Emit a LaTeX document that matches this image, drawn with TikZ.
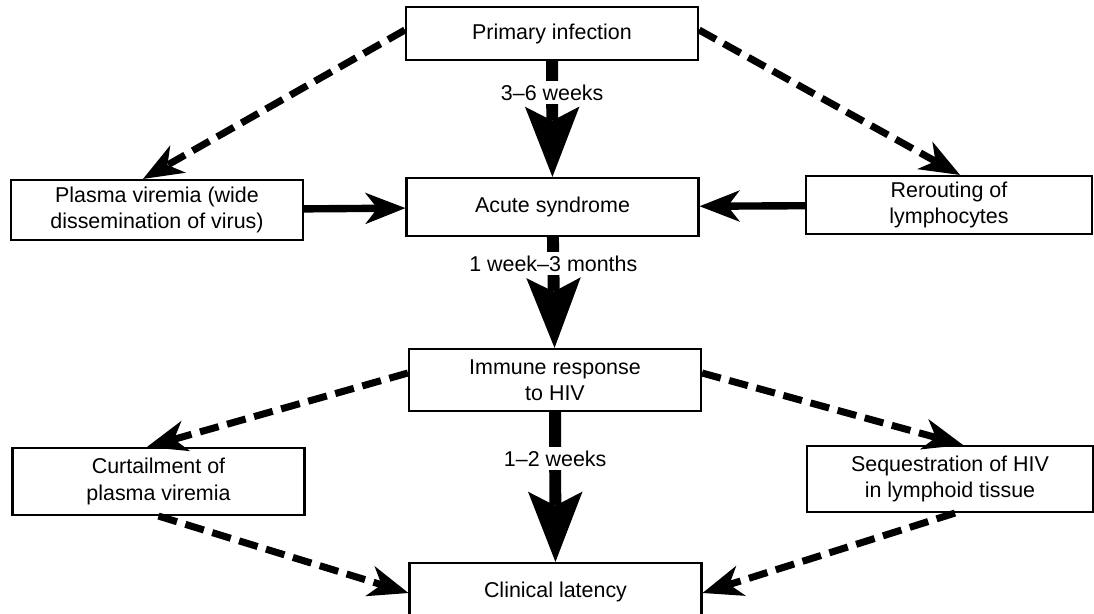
\documentclass[tikz,border=0pt]{standalone}
\usepackage{fontspec}
\setmainfont{Liberation Sans}
\usetikzlibrary{arrows.meta}

\tikzset{
	box/.style={draw, line width=1.2pt, align=center, inner sep=0pt, minimum width=5.84cm, minimum height=1.1cm, font=\fontsize{12.2}{15}\selectfont},
	bigarrow/.style={line width=6.8pt, -{Stealth[length=40pt, width=31pt, inset=8pt, line width=0pt]}},
	solidarrow/.style={line width=4.2pt, -{Stealth[length=23pt, width=18pt, inset=7pt, line width=0pt]}},
	dasharrow/.style={line width=4pt, dash pattern=on 11pt off 5pt, -{Stealth[length=23pt, width=18pt, inset=7pt, line width=0pt]}},
	weeks/.style={fill=white, inner sep=2pt, font=\fontsize{12.2}{15}\selectfont}
}

\begin{document}
\begin{tikzpicture}
	\useasboundingbox[fill=white] (0,0) rectangle (21.88,-12.28);
	\node[box, minimum height=1.06cm] (prim) at (11.04,-0.67) {Primary infection};
	\node[box, minimum height=1.16cm] (acute) at (11.05,-4.14) {Acute syndrome};
	\node[box, minimum height=1.2cm] (plasma) at (3.14,-4.20) {Plasma viremia (wide\\dissemination of virus)};
	\node[box, minimum width=5.72cm, minimum height=1.16cm] (rerout) at (18.98,-4.10) {Rerouting of\\lymphocytes};
	\node[box, minimum height=1.24cm] (immune) at (11.10,-7.60) {Immune response\\to HIV};
	\node[box, minimum height=1.34cm] (curtail) at (3.17,-9.63) {Curtailment of\\plasma viremia};
	\node[box, minimum width=5.72cm, minimum height=1.32cm] (seq) at (19.0,-9.58) {Sequestration of HIV\\in lymphoid tissue};
	\node[box, minimum height=1.16cm] (clin) at (11.11,-11.84) {Clinical latency};

	\draw[bigarrow] (prim) -- node[weeks, pos=0.27] (lbla) {3–6 weeks} (acute);
	\draw[bigarrow] (acute) -- node[weeks, pos=0.24] (lblb) {1 week–3 months} (immune);
	\draw[bigarrow] (immune) -- node[weeks, pos=0.31] (lblc) {1–2 weeks} (clin);
	\draw[solidarrow] (plasma) -- (acute);
	\draw[solidarrow] (rerout) -- (acute);
	\draw[dasharrow] ([yshift=0.07cm]prim.west) -- ([xshift=-0.28cm]plasma.north);
	\draw[dasharrow] ([yshift=0.07cm]prim.east) -- ([xshift=0.22cm]rerout.north);
	\draw[dasharrow] ([yshift=0.14cm]immune.west) -- ([xshift=-0.23cm]curtail.north);
	\draw[dasharrow] ([yshift=0.14cm]immune.east) -- ([xshift=0.26cm]seq.north);
	\draw[dasharrow] (curtail.south) -- ([yshift=-0.02cm]clin.west);
	\draw[dasharrow] ([xshift=0.1cm]seq.south) -- ([yshift=-0.02cm]clin.east);
\end{tikzpicture}
\end{document}
